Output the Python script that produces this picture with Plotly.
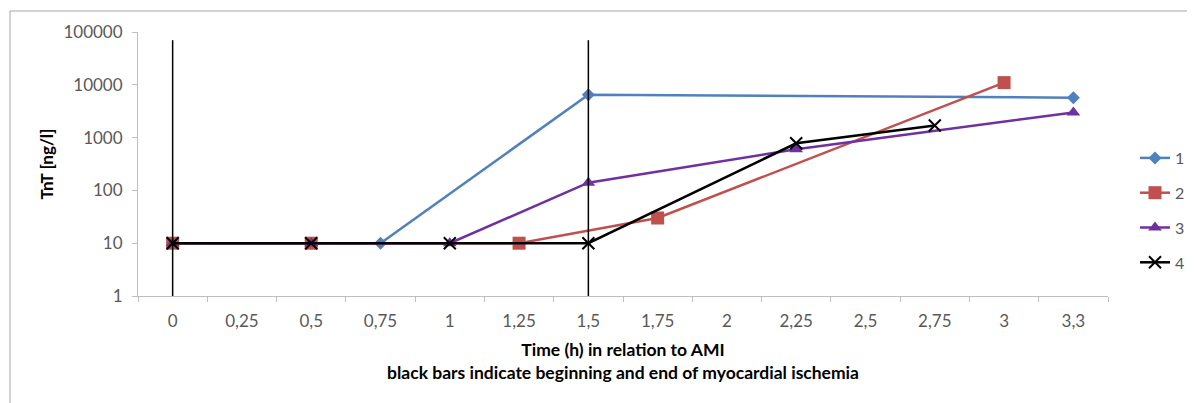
import plotly.graph_objects as go

categories = ["0", "0,25", "0,5", "0,75", "1", "1,25", "1,5", "1,75",
              "2", "2,25", "2,5", "2,75", "3", "3,3"]
series_names = ["1", "2", "3", "4"]
s1 = [10, None, 10, 10, None, None, 6500, None, None, None, None, None, None, 5700]
s2 = [10, None, 10, None, None, 10, None, 30, None, None, None, None, 11000, None]
s3 = [10, None, 10, None, 10, None, 140, None, None, 600, None, None, None, 3000]
s4 = [10, None, 10, None, 10, None, 10, None, None, 780, None, 1700, None, None]
bar_categories = ["0", "1,5"]
bar_bottom = 1
bar_top = 70000
y_tickvals = [1, 10, 100, 1000, 10000, 100000]
y_ticktext = ["1", "10", "100", "1000", "10000", "100000"]

colors = ["#4F81BD", "#C0504D", "#7030A0", "#000000"]
symbols = ["diamond", "square", "triangle-up", "x-thin-open"]
sizes = [10, 13, 12, 12]

OFF = 8  # page body margin
W, H = 1195 - OFF, 403 - OFF
L, T = 138 - OFF, 32 - OFF
pw, ph = 970, 264
R = W - L - pw
B = H - T - ph
FONT = "Lato"

fig = go.Figure()
for i, (name, vals) in enumerate(zip(series_names, [s1, s2, s3, s4])):
    fig.add_trace(go.Scatter(
        x=categories, y=vals, name=name, mode="lines+markers",
        connectgaps=True,
        line=dict(color=colors[i], width=2.5),
        marker=dict(symbol=symbols[i], size=sizes[i], color=colors[i],
                    line=dict(color=colors[i], width=2 if i == 3 else 0)),
        legendgroup=name,
    ))

for c in bar_categories:
    fig.add_trace(go.Scatter(
        x=[c, c], y=[bar_bottom, bar_top], mode="lines",
        line=dict(color="black", width=1.5), showlegend=False,
        hoverinfo="skip",
    ))

fig.add_shape(type="rect", xref="paper", yref="paper",
              x0=(10 - OFF - L) / pw, x1=(W + 5 - L) / pw,
              y0=-(H + 5 - T - ph) / ph, y1=1 + (T - (11 - OFF)) / ph,
              line=dict(color="#A6A6A6", width=1), layer="below")

fig.update_layout(
    width=W, height=H,
    margin=dict(l=L, r=R, t=T, b=B, autoexpand=False),
    paper_bgcolor="white", plot_bgcolor="white",
    font=dict(family=FONT, size=16, color="#595959"),
    showlegend=True,
    legend=dict(x=(1135 - OFF - L) / pw, y=1 - (141 - OFF - T) / ph, xanchor="left", yanchor="top",
                font=dict(family=FONT, size=16, color="#595959"),
                tracegroupgap=11, itemwidth=30, bgcolor="rgba(0,0,0,0)"),
    xaxis=dict(
        type="category", categoryorder="array", categoryarray=categories,
        range=[-0.5, len(categories) - 0.5],
        showgrid=False, showline=True, linecolor="#BFBFBF", linewidth=1,
        ticks="outside", tickson="boundaries", ticklen=5, tickcolor="#BFBFBF",
        ticklabelstandoff=10,
        tickfont=dict(family=FONT, size=17, color="#595959"),
        title=dict(text="<b>Time (h) in relation to AMI</b><br><b>black bars indicate beginning and end of myocardial ischemia</b>",
                   font=dict(family=FONT, size=17.5, color="#000000"), standoff=13),
        zeroline=False,
    ),
    yaxis=dict(
        type="log", range=[0, 5], tickvals=y_tickvals, ticktext=y_ticktext,
        showgrid=False, showline=True, linecolor="#BFBFBF", linewidth=1,
        ticks="outside", ticklen=5, tickcolor="#BFBFBF",
        ticklabelstandoff=6,
        tickfont=dict(family=FONT, size=17, color="#595959"),
        title=dict(text="<b>TnT [ng/l]</b>", font=dict(family=FONT, size=17, color="#000000"),
                   standoff=5),
        zeroline=False,
    ),
)

fig.write_html("out.html")
